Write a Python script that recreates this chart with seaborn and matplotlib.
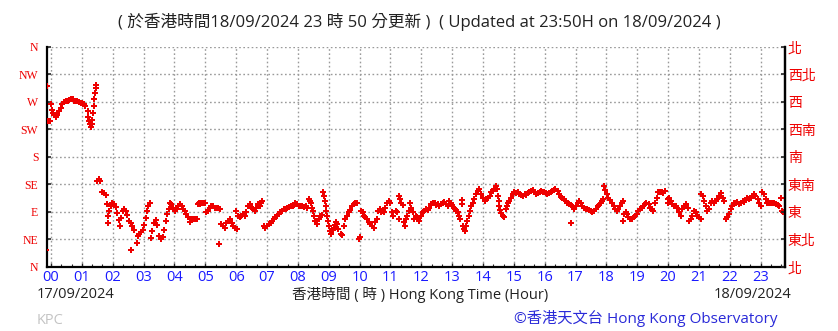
import matplotlib
matplotlib.use("Agg")
import matplotlib.pyplot as plt
import seaborn as sns
import pandas as pd
from matplotlib.ticker import MultipleLocator

# ---------------- data (minutes after 00:00 on 18/09/2024, wind direction in degrees) ----------------
minutes = [
    -8, -9, -6, -2, -1, 1, 3, 6, 9, 12, 16, 19, 22, 25, 29, 32, 35, 38, 42, 45, 48, 51, 54, 58, 61, 64, 67,
    71, 72, 73, 75, 77, 79, 80, 82, 83, 84, 86, 87, 88, 90, 93, 95, 100, 103, 106, 108, 110, 111, 113, 116,
    119, 123, 126, 129, 132, 134, 137, 139, 142, 145, 148, 152, 155, 156, 158, 161, 167, 169, 171, 174, 178,
    181, 184, 186, 189, 193, 195, 197, 200, 204, 207, 210, 213, 217, 220, 223, 226, 230,
    231, 234, 237, 241, 244, 247, 250, 254, 257, 260, 263, 267, 270, 273, 276, 280, 283, 285, 287, 290, 292,
    296, 299, 302, 305, 309, 312, 315, 318, 322, 325, 327, 328, 331, 335, 338, 341, 344, 348, 351, 354, 357,
    361, 359, 364, 367, 370, 374, 377, 380, 383, 386, 390, 393, 396, 399, 403, 406, 409, 411, 414, 417, 420,
    423, 427, 430, 433, 436, 440, 443, 446, 449, 453, 456, 459, 462, 466, 471,
    472, 475, 478, 482, 485, 488, 491, 495, 498, 501, 504, 506, 508, 510, 511, 514, 517, 521, 524, 526, 528,
    530, 532, 534, 535, 537, 539, 541, 543, 545, 548, 550, 552, 554, 557, 559, 563, 566, 569, 572, 576, 579,
    582, 585, 589, 592, 595, 598, 600, 603, 606, 608, 611, 615, 618, 621, 624, 628, 631, 634, 636, 639, 641,
    644, 647, 650, 653, 657, 660, 663, 666, 670, 673, 676, 677, 679, 681, 684, 686, 688, 690, 693, 696, 698,
    701, 703, 706, 709, 712,
    713, 716, 720, 723, 726, 729, 733, 736, 739, 742, 746, 749, 752, 755, 759, 762, 765, 768, 772, 773, 777,
    780, 783, 785, 788, 791, 794, 796, 799, 800, 801, 803, 805, 807, 809, 812, 814, 817, 820, 823, 827, 830,
    833, 836, 840, 843, 846, 849, 853, 856, 859, 862, 866, 867, 869, 871, 872, 874, 876, 879, 881, 884, 886,
    889, 891, 895, 898, 901, 904, 908, 911, 914, 917, 921, 924, 927, 930, 934, 937, 940, 943, 947, 950, 953,
    956, 959, 962, 965, 969, 972, 975, 978, 981, 985, 988, 991, 994, 998, 1001, 1004, 1007, 1011, 1011, 1014,
    1017, 1020, 1024, 1027, 1030, 1033, 1037, 1040, 1043, 1046, 1050, 1053, 1056, 1059, 1063, 1066, 1069,
    1072, 1074, 1076, 1078, 1081, 1084, 1087, 1090, 1094, 1097, 1100, 1103, 1107, 1110, 1113, 1112, 1115,
    1118, 1121, 1123, 1126, 1129, 1133, 1136, 1139, 1142, 1146, 1149, 1152, 1155, 1158, 1162, 1165, 1168,
    1171, 1175, 1178, 1181, 1184, 1188, 1191,
    1195, 1199, 1200, 1202, 1205, 1208, 1212, 1215, 1218, 1221, 1225, 1228, 1231, 1234, 1238, 1241, 1244,
    1247, 1251, 1254, 1257, 1260, 1264, 1265, 1268, 1270, 1273, 1276, 1280, 1283, 1286, 1289, 1293, 1296,
    1299, 1302, 1306, 1309, 1312, 1315, 1319, 1322, 1325, 1328, 1332, 1335, 1338, 1341, 1345, 1348, 1351,
    1354, 1358, 1361, 1364, 1367, 1370, 1374, 1377, 1380, 1383, 1387, 1390, 1393, 1396, 1400, 1403, 1406,
    1409, 1413, 1416, 1419, 1422, 1424,
]
direction = [
    296, 27, 238, 238, 266, 257, 252, 248, 246, 248, 255, 260, 266, 269, 271, 271, 273, 274, 274, 272, 272,
    271, 270, 268, 268, 266, 263,
    255, 246, 238, 233, 229, 233, 241, 252, 263, 274, 285, 293, 297, 141, 143, 140, 122, 121, 118, 102, 72,
    83, 91, 99,
    104, 102, 98, 88, 77, 66, 80, 91, 95, 91, 84, 75, 72, 27, 66, 61, 39, 50, 54, 57, 61,
    69, 80, 91, 99, 104, 47, 58, 71, 77, 69, 50, 45, 49, 61, 75, 87, 95,
    105, 102, 97, 92, 94, 100, 102, 100, 95, 92, 86, 81, 74, 78, 79, 78, 79, 102, 104, 102, 104,
    104, 104, 89, 92, 97, 100, 99, 97, 96, 97, 37, 95, 70, 67, 64, 72, 75, 78, 72, 67, 63,
    62, 92, 83, 81, 83, 86, 83, 89, 100, 102, 97, 94, 92, 97, 102, 100, 105, 108, 67, 64, 67,
    70, 72, 75, 78, 81, 83, 87, 90, 92, 94, 95, 97, 98, 99, 100,
    101, 105, 102, 99, 100, 99, 98, 99, 97, 111, 108, 104, 97, 92, 83, 75, 70, 78, 83, 85, 122,
    116, 108, 100, 92, 83, 75, 67, 59, 53, 61, 64, 68, 74, 70, 62, 53, 52, 67, 78, 83, 89,
    93, 100, 102, 105, 105, 46, 48, 92, 89, 83, 81, 78, 73, 70, 67, 64, 73, 78, 92, 94, 90,
    92, 89, 97, 105, 108, 105, 89, 83, 92, 89, 78, 116, 111, 105, 101, 73, 67, 78, 83, 92, 105,
    97, 89, 78, 83, 81,
    78, 75, 83, 89, 92, 94, 93, 97, 102, 105, 104, 101, 102, 100, 102, 105, 106, 102, 99, 108, 105,
    101, 97, 94, 92, 89, 83, 78, 110, 102, 67, 62, 59, 67, 75, 83, 92, 100, 105, 111, 119, 124,
    127, 119, 113, 108, 111, 113, 116, 122, 124, 128, 133, 127, 116, 108, 100, 93, 88, 83, 81, 94, 100,
    105, 108, 113, 119, 122, 121, 123, 119, 117, 116, 119, 117, 121, 122, 124, 126, 122, 119, 121, 123, 124,
    122, 122, 121, 119, 121, 123, 124, 126, 127, 124, 119, 115, 112, 111, 108, 105, 102, 101, 71, 100,
    95, 99, 104, 107, 104, 100, 97, 95, 94, 93, 92, 89, 92, 95, 99, 101, 105,
    108, 111, 133, 126, 119, 113, 110, 105, 100, 94, 92, 94, 100, 105, 108, 75, 86,
    89, 86, 82, 79, 78, 81, 83, 86, 92, 94, 97, 100, 102, 105, 102, 97, 94,
    92, 105, 113, 122, 123, 122, 121,
    124, 111, 105, 113, 108, 102, 100, 99, 97, 89, 83, 94, 100, 102, 97, 75, 78,
    83, 92, 89, 83, 81, 78, 119, 116, 108, 100, 92, 94, 105, 108, 105, 108, 111,
    116, 121, 113, 108, 78, 81, 86, 94, 100, 105, 104, 106, 102, 105, 108, 106, 110,
    112, 111, 113, 116, 119, 116, 111, 105, 100, 122, 119, 111, 105, 105, 104, 105, 104,
    102, 101, 100, 113, 92, 89,
]

hour_labels = [f"{h:02d}" for h in range(24)]
dir_labels_en = ["N", "NE", "E", "SE", "S", "SW", "W", "NW", "N"]
dir_labels_zh = ["北", "東北", "東", "東南", "南", "西南", "西", "西北", "北"]

df = pd.DataFrame({"minute": minutes, "direction": direction})

# ---------------- styling ----------------
sns.set_style("white")
plt.rcParams["font.family"] = ["DejaVu Sans", "Noto Sans CJK TC"]

RED = "#ee0000"
BLUE = "#1a1aff"

fig = plt.figure(figsize=(8.38, 3.31), dpi=100)
ax = fig.add_axes([0.0557, 0.1940, 0.8811, 0.6643])

sns.scatterplot(data=df, x="minute", y="direction", ax=ax, color=RED,
                marker="P", s=14, linewidth=0, legend=False, zorder=3)

ax.set_xlim(-8.5, 1427.5)
ax.set_ylim(0, 360)
ax.set_xlabel("")
ax.set_ylabel("")

ax.set_xticks([60 * h for h in range(24)])
ax.set_xticklabels(hour_labels, color=BLUE, fontsize=10.5,
                   fontfamily=["Open Sans", "DejaVu Sans"])
ax.xaxis.set_minor_locator(MultipleLocator(20))
ax.set_yticks(range(0, 361, 45))
ax.set_yticklabels(dir_labels_en, color=RED, fontsize=8.5, fontfamily="Liberation Serif")

ax.grid(True, which="major", color="#9a9a9a", linestyle=(0, (1.2, 1.8)), linewidth=1.0)
ax.set_axisbelow(True)

for s in ["left", "bottom", "right"]:
    ax.spines[s].set_visible(True)
    ax.spines[s].set_color("black")
    ax.spines[s].set_linewidth(1.6)
ax.spines["top"].set_visible(False)

ax.tick_params(axis="x", which="major", direction="in", length=3, width=1, pad=2, bottom=True)
ax.tick_params(axis="x", which="minor", direction="in", length=2, width=0.8, bottom=True)
ax.tick_params(axis="y", which="major", direction="in", length=3, width=1.2, pad=6, left=True)

ax2 = ax.twinx()
ax2.set_ylim(0, 360)
ax2.set_yticks(range(0, 361, 45))
ax2.set_yticklabels(dir_labels_zh, color=RED, fontsize=10, fontfamily="Noto Sans CJK TC")
ax2.tick_params(axis="y", direction="in", length=3, width=1.2, pad=2, right=True)
for s in ["left", "bottom", "top"]:
    ax2.spines[s].set_visible(False)
ax2.spines["right"].set_color("black")
ax2.spines["right"].set_linewidth(1.6)
ax2.grid(False)

W, H = 838.0, 331.0
def fx(px):
    return px / W
def fy(py):
    return 1 - py / H

fam = ["Open Sans", "Noto Sans CJK TC"]
fig.text(fx(419), fy(22),
         "( 於香港時間18/09/2024 23 時 50 分更新 )  ( Updated at 23:50H on 18/09/2024 )",
         ha="center", va="center", fontsize=12, color="#222222", fontfamily=fam)
fig.text(fx(37), fy(295), "17/09/2024", ha="left", va="center", fontsize=10.5,
         color="#222222", fontfamily=fam)
fig.text(fx(420), fy(295), "香港時間 ( 時 ) Hong Kong Time (Hour)", ha="center", va="center",
         fontsize=10.5, color="#222222", fontfamily=fam)
fig.text(fx(791), fy(295), "18/09/2024", ha="right", va="center", fontsize=10.5,
         color="#222222", fontfamily=fam)
fig.text(fx(37), fy(321), "KPC", ha="left", va="center", fontsize=10.5,
         color="#c4c4c4", fontfamily=fam)
fig.text(fx(777), fy(318), "©香港天文台 Hong Kong Observatory", ha="right", va="center",
         fontsize=11, color="#2a2ad8", fontfamily=fam)

fig.savefig("out.png", dpi=100, facecolor="white")
